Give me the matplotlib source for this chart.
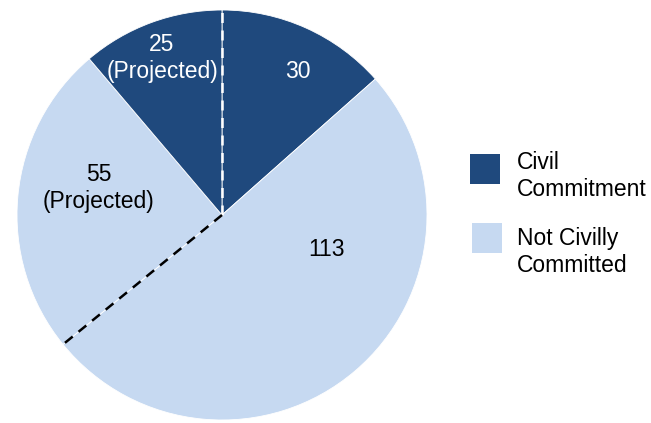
import numpy as np
import matplotlib.pyplot as plt
from matplotlib.patches import Rectangle

plt.rcParams['font.family'] = ['Liberation Sans', 'DejaVu Sans']

# Data (clockwise from top)
values = [30, 113, 55, 25]
labels = ['30', '113', '55\n(Projected)', '25\n(Projected)']
kinds = ['civil', 'not', 'not', 'civil']
legend_labels = ['Civil\nCommitment', 'Not Civilly\nCommitted']

dark = '#1F497D'
light = '#C6D9F1'
colors = [dark if k == 'civil' else light for k in kinds]

fig = plt.figure(figsize=(6.51, 4.23), dpi=100)
ax = fig.add_axes([0, 0, 1, 1])

cx, cy, r = 222, 208, 205
wedges, _ = ax.pie(values, colors=colors, startangle=90, counterclock=False,
                   center=(cx, cy), radius=r, frame=True,
                   wedgeprops=dict(edgecolor='white', linewidth=0.6))
ax.set_xlim(0, 651)
ax.set_ylim(0, 423)
ax.set_aspect('equal')
ax.axis('off')

# dashed boundaries: between 25 and 30 (top), between 113 and 55
cum = np.cumsum([0] + values)
total = cum[-1]
for idx, col in [(0, 'white'), (2, 'black')]:
    ang = np.deg2rad(90 - 360 * cum[idx] / total)
    ax.plot([cx, cx + r * np.cos(ang)], [cy, cy + r * np.sin(ang)],
            color=col, linestyle=(0, (4, 3)), linewidth=1.8)

# label positions (offsets from centre, pixels)
offsets = [(76, 144), (105, -35), (-123, 27), (-60, 157)]
txt_colors = ['white', 'black', 'black', 'white']
for lab, (dx, dy), tc in zip(labels, offsets, txt_colors):
    ax.text(cx + dx, cy + dy, lab, ha='center', va='center', color=tc,
            fontsize=16.5, linespacing=1.2)

# legend, drawn by hand
leg_colors = [dark, light]
leg_boxes = [(470, 239), (472, 170)]
leg_text_y = [247, 171]
for col, (bx, by), ty, lab in zip(leg_colors, leg_boxes, leg_text_y, legend_labels):
    ax.add_patch(Rectangle((bx, by), 30, 30, facecolor=col, edgecolor='none'))
    ax.text(517, ty, lab, ha='left', va='center', fontsize=16.5, linespacing=1.2)

fig.savefig('out.png', dpi=100)
